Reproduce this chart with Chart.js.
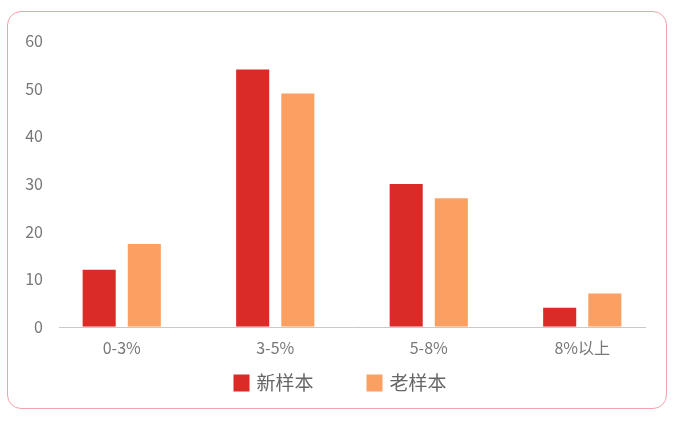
<!DOCTYPE html>
<html>
<head>
<meta charset="utf-8">
<script src="https://cdn.jsdelivr.net/npm/chart.js@4"></script>
<style>
html,body{margin:0;padding:0;background:#fff;}
#wrap{position:relative;width:678px;height:421px;}
#frame{position:absolute;left:7px;top:11px;width:660px;height:398px;border:1.5px solid #f0a3aa;border-radius:14px;box-sizing:border-box;}
canvas{position:absolute;left:0;top:0;}
</style>
</head>
<body>
<div id="wrap">
<div id="frame"></div>
<canvas id="c" width="678" height="421"></canvas>
</div>
<script>
const categories = ["0-3%", "3-5%", "5-8%", "8%以上"];
const newSample = [12, 54, 30, 4];
const oldSample = [17.4, 49, 27, 7];
const yTicks = [0, 10, 20, 30, 40, 50, 60];

const FONT = '"Noto Sans CJK SC", "Noto Sans", sans-serif';

const axisLine = {
  id: 'axisLine',
  afterDatasetsDraw(chart) {
    const {ctx, chartArea, scales} = chart;
    const y = scales.y.getPixelForValue(0);
    ctx.save();
    ctx.strokeStyle = '#c9c9c9';
    ctx.lineWidth = 1;
    ctx.beginPath();
    ctx.moveTo(chartArea.left + 14, Math.round(y) + 0.5);
    ctx.lineTo(chartArea.right - 13, Math.round(y) + 0.5);
    ctx.stroke();
    ctx.restore();
  }
};

const customLegend = {
  id: 'customLegend',
  afterDraw(chart) {
    const {ctx} = chart;
    const sets = chart.data.datasets;
    const box = 16, boxH = 17, gap = 7, spacing = 53;
    ctx.save();
    ctx.font = '19px ' + FONT;
    const widths = sets.map(d => box + gap + ctx.measureText(d.label).width);
    const total = widths.reduce((a, b) => a + b, 0) + spacing * (sets.length - 1);
    let x = chart.width / 2 - total / 2 + 1;
    const midY = 383;
    sets.forEach((d, i) => {
      ctx.fillStyle = d.backgroundColor;
      ctx.fillRect(x, midY - boxH / 2, box, boxH);
      ctx.fillStyle = '#666';
      ctx.textBaseline = 'middle';
      ctx.textAlign = 'left';
      ctx.fillText(d.label, x + box + gap, midY);
      x += widths[i] + spacing;
    });
    ctx.restore();
  }
};

new Chart(document.getElementById('c'), {
  type: 'bar',
  data: {
    labels: categories,
    datasets: [
      {label: '新样本', data: newSample, backgroundColor: '#da2b26', categoryPercentage: 0.588, barPercentage: 0.733},
      {label: '老样本', data: oldSample, backgroundColor: '#fba062', categoryPercentage: 0.588, barPercentage: 0.733}
    ]
  },
  options: {
    responsive: false,
    animation: false,
    layout: {padding: {left: 0, right: 19, top: 41, bottom: 51}},
    plugins: {
      tooltip: {enabled: false},
      legend: {display: false}
    },
    scales: {
      x: {
        grid: {display: false, drawTicks: false},
        border: {display: false},
        ticks: {color: '#777', padding: 12, font: {family: FONT, size: 16}}
      },
      y: {
        min: 0, max: 60,
        afterBuildTicks(scale) { scale.ticks = yTicks.map(v => ({value: v})); },
        afterFit(scale) { scale.width = 45; },
        grid: {display: false, drawTicks: false},
        border: {display: false},
        ticks: {color: '#777', padding: 2, font: {family: FONT, size: 16}}
      }
    }
  },
  plugins: [axisLine, customLegend]
});
</script>
</body>
</html>
